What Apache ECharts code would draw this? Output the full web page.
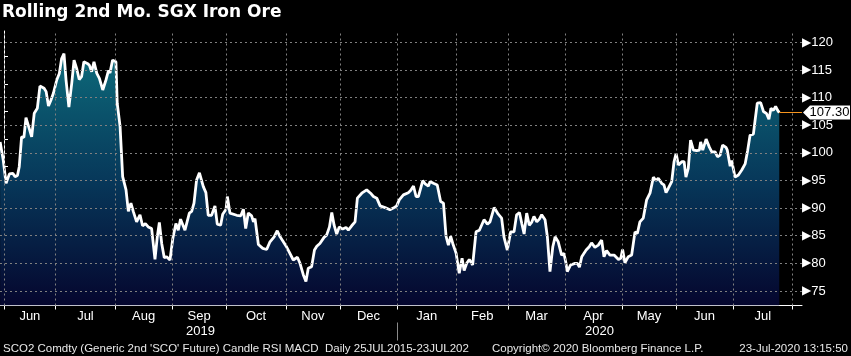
<!DOCTYPE html>
<html><head><meta charset="utf-8">
<script src="https://cdn.jsdelivr.net/npm/echarts@6/dist/echarts.min.js"></script>
<style>html,body{margin:0;padding:0;background:#000;}#c{width:851px;height:356px;}</style>
</head><body><div id="c"></div>
<script>
// ---- data (x = trading-day offset from 3-Jun-2019, y = USD/t) ----
const titleText = 'Rolling 2nd Mo. SGX Iron Ore';
const days = [-1.5,-0.3,0.8,2.1,3.4,4.3,5.2,5.9,6.8,7.7,8.5,9.4,10.7,11.7,12.9,13.9,15.5,16.3,17.2,18.1,19.1,20.4,21.4,22.3,23.2,24.0,25.1,26.2,27.1,28.1,29.1,30.0,30.9,32.2,33.0,33.9,34.8,35.9,36.9,38.2,39.5,40.4,41.0,42.0,43.3,43.8,44.9,45.9,47.2,48.1,49.1,50.0,51.3,52.6,53.6,54.7,55.8,57.1,58.4,59.3,60.1,61.0,62.0,62.9,64.2,65.3,66.5,67.4,68.3,70.0,71.7,72.6,73.5,74.5,75.6,77.1,78.1,79.0,80.3,81.6,82.5,83.8,84.6,85.9,86.4,87.4,90.0,91.6,92.6,93.5,94.5,95.8,96.5,97.1,98.4,100.1,101.6,102.9,104.5,105.7,106.8,107.8,109.4,110.6,111.9,113.5,114.5,115.8,116.8,117.7,119.0,120.1,121.0,122.2,123.8,124.8,125.9,126.8,127.7,128.7,129.7,131.0,132.3,133.2,134.5,135.8,136.7,138.4,140.3,141.8,142.9,144.2,145.5,147.4,149.3,150.6,151.9,152.9,154.5,156.4,157.3,158.4,159.4,160.3,162.0,162.9,164.2,164.8,166.1,167.6,168.9,170.0,171.0,171.9,172.8,173.6,174.9,176.1,177.2,178.0,179.0,180.0,181.3,182.6,183.9,185.7,187.0,188.0,189.6,191.2,192.5,193.4,194.7,196.0,197.3,198.3,199.4,200.3,201.2,202.2,203.2,204.1,205.0,206.1,207.1,208.0,209.3,210.2,211.2,212.3,213.2,214.4,215.7,216.6,217.4,217.9,219.2,220.9,221.8,222.6,223.5,225.2,226.4,227.3,228.6,229.9,231.2,232.1,233.1,234.4,236.0,237.7,238.6,239.3,240.2,241.5,242.8,244.1,245.0,246.0,247.3,248.6,249.9,251.2,252.2,253.1,254.4,255.3,256.1,257.0,258.3,259.2,260.0,260.9,262.2,263.1,263.8,264.7,265.6,266.7,268.0,269.0,269.5,270.3,271.6,272.9,273.8,275.1,276.0,277.0,278.0,279.3,279.8,280.9,281.5,282.8,284.1,285.4,286.7,287.7,288.6,289.9,290.5,291.4,292.7,293.8,295.0,295.9,296.7,297.6,298.5,299.3,299.9];
const prices = [102.0,98.7,94.5,96.2,96.3,95.7,95.9,97.5,102.9,102.8,106.4,105.0,102.9,107.2,108.1,112.1,111.7,111.1,108.5,109.5,110.8,113.2,114.4,117.1,118.0,113.2,108.3,112.6,116.8,115.3,113.3,113.8,116.5,116.2,115.9,114.7,116.5,114.4,113.5,111.4,113.3,114.9,114.5,116.8,116.5,109.0,104.8,95.7,93.3,89.4,90.9,89.4,87.5,88.8,86.8,87.2,86.6,86.3,80.7,84.8,87.4,83.6,81.0,81.2,80.6,84.5,87.2,86.0,88.0,86.0,89.1,89.4,90.9,95.1,96.4,93.9,92.8,88.7,88.7,90.4,87.1,86.9,88.9,89.8,92.1,89.1,88.7,88.6,89.8,86.3,89.1,88.6,87.5,88.1,83.4,82.7,82.5,83.9,84.8,85.9,84.8,84.1,82.9,81.8,80.6,81.1,80.0,77.9,76.7,79.1,79.4,82.4,83.1,83.6,84.7,85.1,86.6,89.2,86.9,85.3,86.6,86.2,86.5,86.0,86.8,87.5,91.8,92.7,93.3,92.7,92.1,91.8,90.4,90.1,89.7,90.0,90.4,91.5,92.4,92.8,93.2,94.0,92.1,92.1,95.0,94.4,94.0,94.8,94.5,94.2,91.2,90.9,84.9,83.3,84.9,83.6,81.8,78.2,80.9,78.7,80.0,80.7,79.7,85.7,86.0,87.9,87.1,87.5,90.1,88.9,88.2,84.8,82.4,85.7,85.7,88.8,89.2,87.2,85.3,89.1,86.9,87.4,88.5,87.5,88.0,88.8,87.9,84.8,78.5,83.0,84.8,83.9,81.5,81.8,80.0,78.5,79.7,80.0,80.0,79.3,81.2,82.4,83.0,83.7,82.9,83.3,84.2,81.2,82.3,81.5,81.5,80.7,80.9,82.5,80.1,81.2,81.5,85.7,85.4,87.5,88.2,91.5,92.7,95.6,95.0,95.4,94.5,94.2,92.8,93.6,94.8,98.4,99.9,97.8,98.4,98.4,95.6,97.2,102.3,100.5,100.4,100.5,102.0,100.5,102.5,101.0,100.2,100.2,99.3,99.6,101.4,101.0,100.5,97.6,98.6,95.6,96.0,96.9,98.0,100.5,103.2,103.4,105.7,109.0,109.1,107.5,107.1,106.1,108.1,107.7,108.4,107.7,107.3];
const lastPrice = 107.30;
const monthStarts = [0,20,43,65,86,109,130,152,175,195,217,239,260,282,305];
const monthLabels = ['Jun','Jul','Aug','Sep','Oct','Nov','Dec','Jan','Feb','Mar','Apr','May','Jun','Jul'];
const yearLabels = ['2019','2020'];
const yearStart = 152;
const yMajorTicks = [75,80,85,90,95,100,105,110,115,120];
const yMinorTicks = [77.5,82.5,87.5,92.5,97.5,102.5,107.5,112.5,117.5];
const footerLeft = "SCO2 Comdty (Generic 2nd 'SCO' Future) Candle RSI MACD  Daily 25JUL2015-23JUL202";
const footerMid = 'Copyright\u00A9 2020 Bloomberg Finance L.P.';
const footerRight = '23-Jul-2020 13:15:50';

// ---- layout ----
const X_MIN = -1.55, X_MAX = 308.7, Y_MIN = 72.36, Y_MAX = 122.08;
const FONT = '"Liberation Sans",Arial,sans-serif';
const monthMids = monthLabels.map((m, k) => (monthStarts[k] + monthStarts[k + 1]) / 2);
const yearMids = [(monthStarts[0] + yearStart) / 2, (yearStart + X_MAX) / 2];
function nearestIdx(arr, v) { let b = 0; arr.forEach((a, k) => { if (Math.abs(a - v) < Math.abs(arr[b] - v)) b = k; }); return b; }
const seriesData = days.map((d, k) => [d, prices[k]]);

const chart = echarts.init(document.getElementById('c'), null, {renderer: 'canvas'});
const gridLine = {color: '#808080', type: [2, 3], width: 1};
chart.setOption({
  animation: false,
  backgroundColor: '#000',
  title: {text: titleText, left: 2, top: 4, padding: 0,
    textStyle: {color: '#fff', fontSize: 17, fontWeight: 'bold', fontFamily: '"DejaVu Sans",sans-serif'}},
  grid: {left: 0, right: 49, top: 31, bottom: 50.5, containLabel: false, outerBoundsMode: 'none'},
  xAxis: [{
    type: 'value', position: 'bottom', min: X_MIN, max: X_MAX,
    axisLine: {show: true, onZero: false, lineStyle: {color: '#fff', width: 1}},
    axisTick: {show: true, customValues: monthStarts, length: 4, lineStyle: {color: '#fff'}},
    axisLabel: {customValues: monthMids, margin: 4, color: '#fff', fontSize: 13, fontFamily: FONT,
      formatter: v => monthLabels[nearestIdx(monthMids, v)]},
    splitLine: {show: false}
  }, {
    type: 'value', position: 'bottom', offset: 17, min: X_MIN, max: X_MAX,
    axisLine: {show: false},
    axisTick: {show: true, customValues: [yearStart], length: 18, lineStyle: {color: '#8a8a8a'}},
    axisLabel: {customValues: yearMids, margin: 2, color: '#fff', fontSize: 13, fontFamily: FONT,
      formatter: v => yearLabels[nearestIdx(yearMids, v)]},
    splitLine: {show: false}
  }],
  yAxis: [{
    type: 'value', position: 'right', min: Y_MIN, max: Y_MAX,
    axisLine: {show: true, lineStyle: {color: '#fff', width: 1}},
    axisTick: {show: true, customValues: yMajorTicks, length: 2, lineStyle: {color: '#fff'}},
    axisLabel: {customValues: yMajorTicks, margin: 0,
      formatter: v => '{t|\u25B6}{n|' + v + '}',
      rich: {t: {fontSize: 12, color: '#fff', fontFamily: '"DejaVu Sans"', padding: [0, 0, 0, 0]},
             n: {fontSize: 13, color: '#fff', fontFamily: FONT}}},
    splitLine: {show: false}
  }, {
    type: 'value', position: 'right', min: Y_MIN, max: Y_MAX,
    axisLine: {show: false},
    axisTick: {show: true, customValues: yMinorTicks, length: 4, lineStyle: {color: '#fff'}},
    axisLabel: {show: false},
    splitLine: {show: false}
  }],
  series: [{
    // filled area under the price line
    type: 'line', xAxisIndex: 0, yAxisIndex: 0, z: 2,
    data: seriesData, symbol: 'none', showSymbol: false,
    lineStyle: {width: 0, opacity: 0},
    areaStyle: {origin: 'start', opacity: 1,
      color: new echarts.graphic.LinearGradient(0, 0, 0, 1, [
        {offset: 0, color: '#0d6a7a'}, {offset: 0.5, color: '#07385a'}, {offset: 1, color: '#05062e'}])}
  }, {
    // dashed grid lines at month starts and every 5 units
    type: 'line', xAxisIndex: 0, yAxisIndex: 0, z: 3, data: [], symbol: 'none',
    markLine: {silent: true, symbol: ['none', 'none'], label: {show: false}, lineStyle: gridLine,
      data: monthStarts.map(v => ({xAxis: v})).concat(yMajorTicks.map(v => ({yAxis: v})))}
  }, {
    // the price line
    type: 'line', xAxisIndex: 0, yAxisIndex: 0, z: 4,
    data: seriesData, symbol: 'none', showSymbol: false,
    lineStyle: {color: '#fff', width: 2.8},
    markLine: {silent: true, symbol: ['none', 'none'], label: {show: false},
      lineStyle: {color: '#f7941d', width: 1, type: 'solid'},
      data: [[{coord: [days[days.length - 1], lastPrice]}, {coord: [X_MAX, lastPrice]}]]},
    markPoint: {silent: true, symbol: 'path://M0,7L7,0L47,0L47,14L7,14Z', symbolSize: [47, 14],
      symbolKeepAspect: false, symbolOffset: [24.5, 0], itemStyle: {color: '#fff'},
      label: {show: true, position: 'inside', color: '#000', fontSize: 13, fontFamily: FONT,
        offset: [3, 0], formatter: () => lastPrice.toFixed(2)},
      data: [{coord: [X_MAX, lastPrice]}]}
  }],
  graphic: [
    {type: 'text', left: 3, top: 343, style: {text: footerLeft, fill: '#e8e8e8', fontSize: 11.5, fontFamily: FONT}},
    {type: 'text', left: 492, top: 343, style: {text: footerMid, fill: '#e8e8e8', fontSize: 11.5, fontFamily: FONT}},
    {type: 'text', right: 3, top: 343, style: {text: footerRight, fill: '#e8e8e8', fontSize: 11.5, fontFamily: FONT}}
  ]
});
</script></body></html>
